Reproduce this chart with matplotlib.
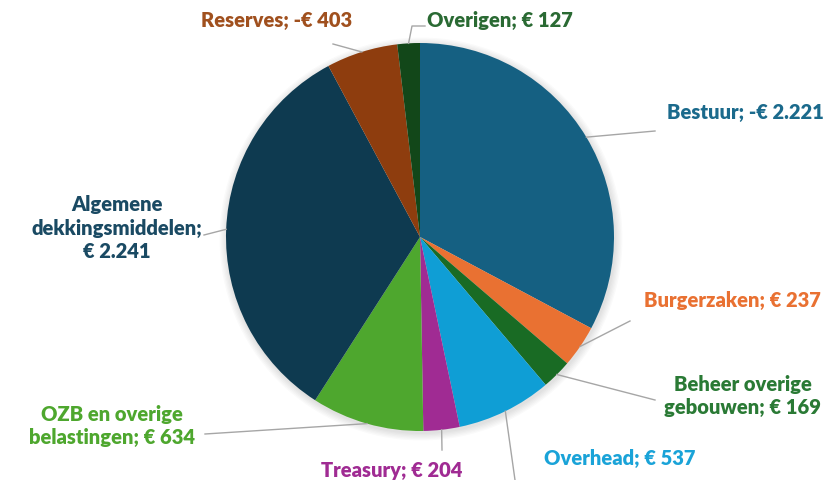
import matplotlib
matplotlib.use("Agg")
import matplotlib.pyplot as plt
import numpy as np

# Data (clockwise from 12 o'clock)
categories = ["Bestuur", "Burgerzaken", "Beheer overige\ngebouwen", "Overhead",
              "Treasury", "OZB en overige\nbelastingen", "Algemene\ndekkingsmiddelen;\n",
              "Reserves", "Overigen"]
values = [2221, 237, 169, 537, 204, 634, 2241, 403, 127]
value_labels = ["-€ 2.221", "€ 237", "€ 169", "€ 537", "€ 204", "€ 634",
                "€ 2.241", "-€ 403", "€ 127"]

slice_colors = ["#156082", "#E97132", "#196B24", "#0F9ED5", "#A02B93",
                "#4EA72E", "#0E3A50", "#8E3D0E", "#124719"]
text_colors = ["#1B6A8C", "#E97132", "#2A7A35", "#1AA3D8", "#A02B93",
               "#4EA72E", "#1A4A63", "#A0501E", "#2A6A33"]

# label positions in pixel coordinates (x, y from top) and leader line ends
label_pos = [(745, 112), (732, 300), (743, 396), (620, 458), (392, 470),
             (112, 426), (117, 228), (277, 20), (500, 20)]
line_end = [(655, 131), (630, 321), (655, 400), (515, 480), (442, 450),
            (205, 434), (204, 235), (333, 44), (425, 26)]
line_elbow = [None, None, None, None, None, None, None, None, (412, 26)]

W, H = 831, 480
plt.rcParams['font.family'] = ['Lato', 'DejaVu Sans']

fig = plt.figure(figsize=(W / 100, H / 100), dpi=100)
ax = fig.add_axes([0, 0, 1, 1])

cx, cy, r = 420, H - 237, 194

# soft shadow around the pie
for k in range(6):
    ax.add_patch(plt.Circle((cx + 1, cy - 2), r + 1 + k * 1.3, color='black',
                            alpha=0.018, lw=0, zorder=0))

wedges, _ = ax.pie(values, colors=slice_colors, startangle=90, counterclock=False,
                   center=(cx, cy), radius=r, frame=True,
                   wedgeprops=dict(linewidth=0))
ax.set_xlim(0, W)
ax.set_ylim(0, H)
ax.set_aspect('equal')
ax.axis('off')

for i, w in enumerate(wedges):
    ang = np.deg2rad((w.theta1 + w.theta2) / 2)
    x0 = cx + r * np.cos(ang)
    y0 = cy + r * np.sin(ang)
    pts = [(x0, y0)]
    if line_elbow[i] is not None:
        ex, ey = line_elbow[i]
        pts.append((ex, H - ey))
    ex, ey = line_end[i]
    pts.append((ex, H - ey))
    xs, ys = zip(*pts)
    ax.plot(xs, ys, color='#A6A6A6', lw=1.0, zorder=1)

    lx, ly = label_pos[i]
    if categories[i].endswith(";\n"):
        txt = categories[i] + value_labels[i]
    else:
        txt = categories[i] + "; " + value_labels[i]
    ax.text(lx, H - ly, txt, ha='center', va='center', color=text_colors[i],
            fontsize=14.5, fontweight='heavy', linespacing=1.3, zorder=3)

fig.savefig("out.png", dpi=100)
